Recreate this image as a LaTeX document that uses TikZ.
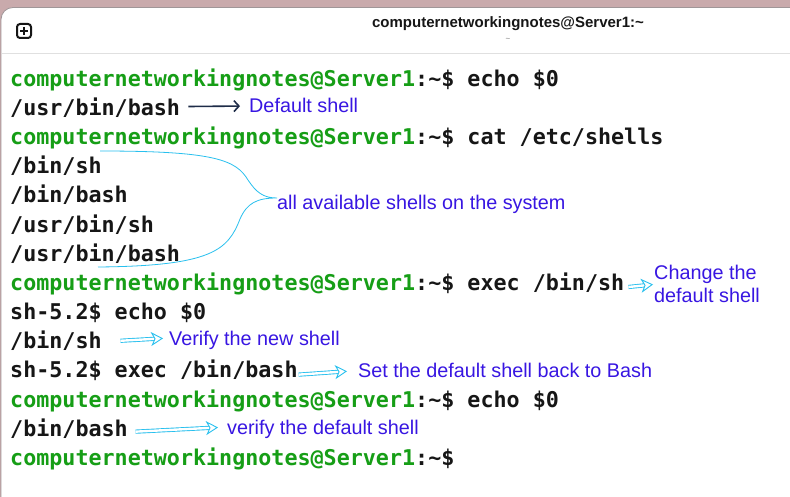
\documentclass[tikz,border=0pt]{standalone}
\usepackage{fontspec}
\setmainfont{Liberation Sans}
\newfontfamily\termfont{DejaVu Sans Mono}
\usepackage{xcolor}
\definecolor{vert}{RGB}{22,158,22}
\definecolor{encre}{RGB}{22,22,22}
\definecolor{bleu}{RGB}{56,22,226}
\definecolor{ciel}{RGB}{40,192,238}
\definecolor{marine}{RGB}{30,44,72}
\definecolor{fond}{RGB}{201,170,172}
\definecolor{bord}{RGB}{160,150,152}
\definecolor{trait}{RGB}{224,224,224}
\usetikzlibrary{positioning,arrows.meta}
\tikzset{
  term/.style={inner sep=0pt, text height=17pt, text depth=5pt, text=encre, font=\termfont\bfseries\fontsize{21.7}{25}\selectfont},
  note/.style={inner sep=0pt, text=bleu, anchor=west, text height=14pt, text depth=0pt, font=\fontsize{19.8}{23}\selectfont},
  note2/.style={inner sep=0pt, text=bleu, anchor=west, align=left, font=\fontsize{19.8}{23}\selectfont},
  nline/.style={draw=marine, line width=1.6pt, -{Straight Barb[length=5pt,width=11pt]}},
  dline/.style={draw=ciel, double=white, double distance=2.4pt, line width=0.9pt, -{Stealth[open, fill=white, length=12pt, width=14pt, inset=3.5pt, line width=0.9pt]}},
  brace/.style={draw=ciel, line width=0.8pt},
}
\newcommand{\userprompt}{{\color{vert}computernetworkingnotes@Server1}:\textasciitilde\$}

\begin{document}
\begin{tikzpicture}[x=1pt,y=1pt]
  \useasboundingbox (0,0) rectangle (790,-497);
  % window
  \fill[fond] (0,0) rectangle (790,-497);
  \filldraw[fill=white, draw=bord, line width=0.8pt, rounded corners=12pt] (1,-520) -- (1,-7.5) -- (820,-7.5) -- (820,-520) -- cycle;
  \draw[trait, line width=1.2pt] (1.5,-53.5) -- (790,-53.5);
  \draw[encre, line width=2pt, rounded corners=3pt] (17,-24) rectangle (31,-38);
  \draw[encre, line width=2pt] (20,-31) -- (28,-31) (24,-27) -- (24,-35);
  \node[text=encre, font=\bfseries\fontsize{15}{18}\selectfont] (titre) at (508,-23.5) {computernetworkingnotes@Server1:\textasciitilde};
  \node[text=gray, font=\fontsize{8}{9}\selectfont] (sous) at (508,-40) {\textasciitilde};

  % terminal lines
  \node[term, anchor=north west] (l1) at (10,-69) {\userprompt{} echo \$0};
  \node[term, below right=6.77pt and 0pt of l1.south west] (l2) {/usr/bin/bash};
  \node[term, below right=6.77pt and 0pt of l2.south west] (l3) {\userprompt{} cat /etc/shells};
  \node[term, below right=6.77pt and 0pt of l3.south west] (l4) {/bin/sh};
  \node[term, below right=6.77pt and 0pt of l4.south west] (l5) {/bin/bash};
  \node[term, below right=6.77pt and 0pt of l5.south west] (l6) {/usr/bin/sh};
  \node[term, below right=6.77pt and 0pt of l6.south west] (l7) {/usr/bin/bash};
  \node[term, below right=6.77pt and 0pt of l7.south west] (l8) {\userprompt{} exec /bin/sh};
  \node[term, below right=6.77pt and 0pt of l8.south west] (l9) {sh-5.2\$ echo \$0};
  \node[term, below right=6.77pt and 0pt of l9.south west] (l10) {/bin/sh};
  \node[term, below right=6.77pt and 0pt of l10.south west] (l11) {sh-5.2\$ exec /bin/bash};
  \node[term, below right=6.77pt and 0pt of l11.south west] (l12) {\userprompt{} echo \$0};
  \node[term, below right=6.77pt and 0pt of l12.south west] (l13) {/bin/bash};
  \node[term, below right=6.77pt and 0pt of l13.south west] (l14) {\userprompt};

  % notes
  \node[note] (a1) at (249,-106) {Default shell};
  \node[note] (a2) at (277,-203) {all available shells on the system};
  \node[note2] (a3) at (654,-284.4) {Change the\\default shell};
  \node[note] (a4) at (169,-338) {Verify the new shell};
  \node[note] (a5) at (358,-370.5) {Set the default shell back to Bash};
  \node[note] (a6) at (227,-427) {verify the default shell};

  % arrows
  \draw[nline, shorten <=8.2pt, shorten >=9pt] ([yshift=2.8pt]l2.east) -- (a1.west);
  \coordinate (bt) at (100,-151);
  \coordinate (bb) at (98,-267);
  \draw[brace] (bt) .. controls (215,-151) and (236,-160) .. (248,-180)
    .. controls (256,-192) and (263,-198) .. ([yshift=5pt]a2.west)
    .. controls (257,-198) and (247,-203) .. (240,-219)
    .. controls (228,-250) and (212,-266) .. (bb);
  \draw[dline, shorten <=4pt, shorten >=1pt] ([yshift=-3pt]l8.east) -- (a3.west);
  \draw[dline, shorten <=18.6pt, shorten >=6pt] ([yshift=0.9pt]l10.east) -- (a4.west);
  \draw[dline, shorten <=0.7pt, shorten >=11pt] ([yshift=-2.8pt]l11.east) -- (a5.west);
  \draw[dline, shorten <=7.5pt, shorten >=9pt] ([yshift=-1.8pt]l13.east) -- (a6.west);
\end{tikzpicture}
\end{document}
